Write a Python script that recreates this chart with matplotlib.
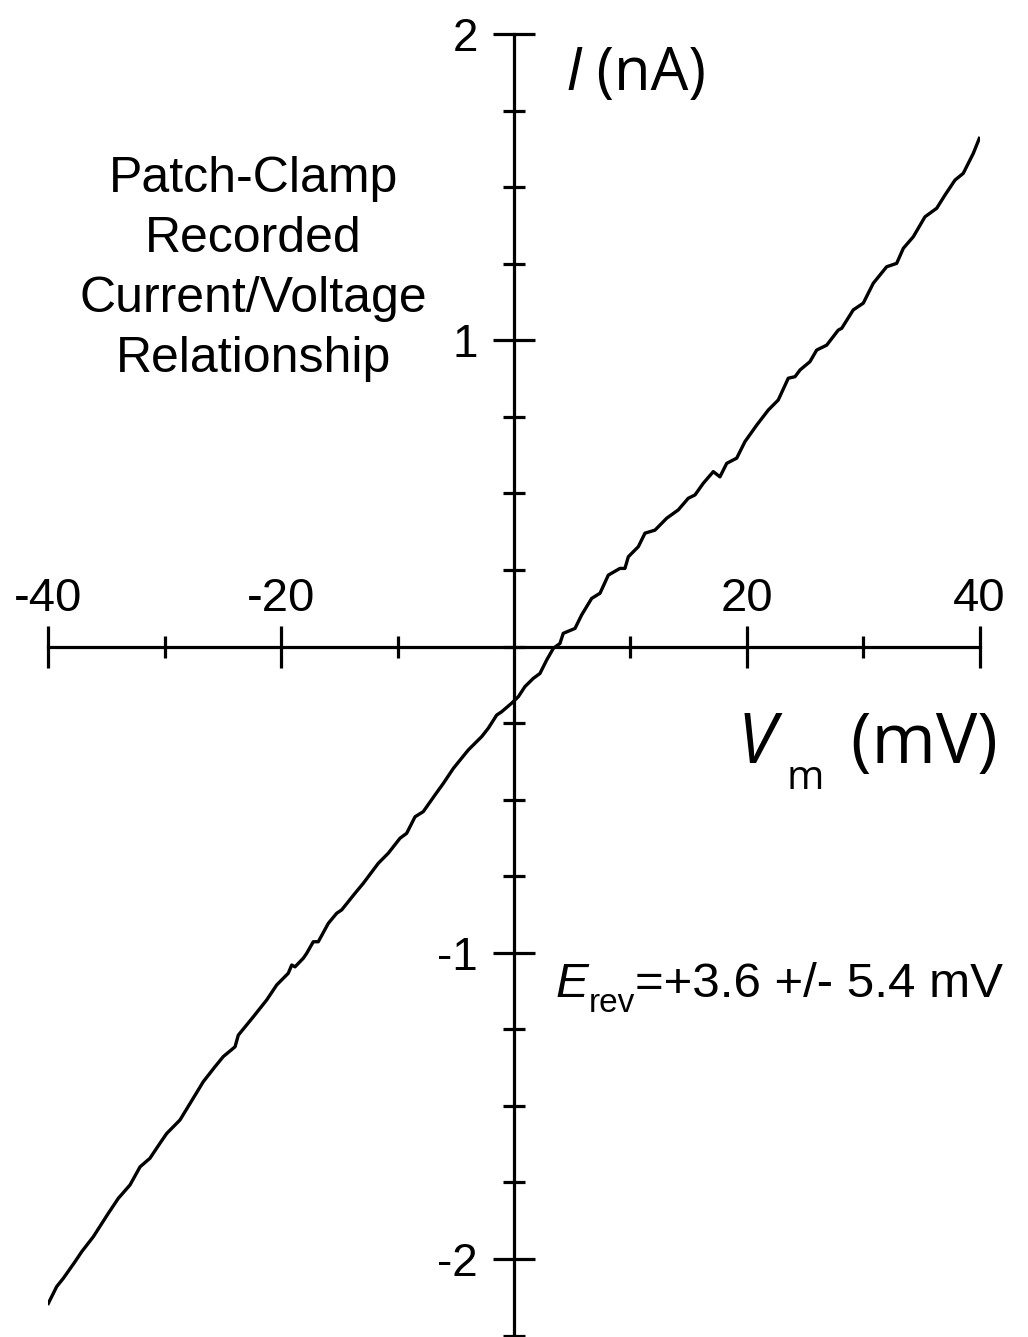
import matplotlib
matplotlib.use("Agg")
import matplotlib.pyplot as plt
from matplotlib.ticker import MultipleLocator, FixedLocator

plt.rcParams['font.family'] = ['Liberation Sans', 'DejaVu Sans']
plt.rcParams['axes.unicode_minus'] = False

# I/V trace: membrane voltage (mV) and whole-cell current (nA)
volts = [-40.0, -39.28, -38.71, -37.71, -37.13, -36.13, -34.85, -33.99, -32.98, -32.12,
         -31.27, -30.41, -29.83, -28.69, -27.12, -26.69, -25.68, -24.97, -23.96, -23.68,
         -22.39, -21.24, -20.38, -19.39, -19.09, -18.81, -18.10, -17.81, -17.24, -16.81,
         -15.95, -15.23, -14.80, -13.66, -12.94, -11.66, -10.80, -9.79, -9.22, -8.50,
         -7.79, -6.79, -6.07, -5.21, -3.93, -2.77, -2.21, -1.49, -1.06, -0.20,
         0.37, 0.94, 1.66, 2.23, 2.81, 3.38, 3.95, 4.23, 5.24, 5.81,
         6.67, 7.39, 8.10, 9.10, 9.53, 9.82, 10.68, 11.25, 12.11, 13.12,
         14.11, 14.97, 15.55, 16.26, 17.12, 17.69, 18.27, 19.13, 19.84, 20.85,
         21.84, 22.70, 23.56, 24.14, 24.57, 25.42, 26.00, 26.86, 27.85, 28.15,
         29.14, 30.00, 30.86, 32.01, 32.87, 33.44, 34.30, 35.30, 36.31, 37.02,
         37.88, 38.59, 39.45, 39.97]
currents = [-2.145, -2.090, -2.063, -2.009, -1.976, -1.927, -1.851, -1.802, -1.758, -1.699,
            -1.671, -1.622, -1.590, -1.546, -1.448, -1.421, -1.372, -1.339, -1.307, -1.269,
            -1.209, -1.154, -1.105, -1.067, -1.040, -1.046, -1.018, -1.002, -0.964, -0.964,
            -0.904, -0.871, -0.860, -0.806, -0.773, -0.708, -0.675, -0.626, -0.610, -0.556,
            -0.539, -0.485, -0.447, -0.398, -0.338, -0.294, -0.267, -0.224, -0.213, -0.185,
            -0.164, -0.131, -0.104, -0.088, -0.044, -0.006, 0.010, 0.043, 0.059, 0.103,
            0.157, 0.174, 0.233, 0.255, 0.255, 0.293, 0.326, 0.370, 0.380, 0.419,
            0.446, 0.484, 0.495, 0.533, 0.571, 0.554, 0.598, 0.615, 0.669, 0.723,
            0.772, 0.805, 0.876, 0.881, 0.903, 0.930, 0.968, 0.984, 1.033, 1.039,
            1.099, 1.121, 1.186, 1.240, 1.251, 1.300, 1.338, 1.403, 1.431, 1.474,
            1.523, 1.545, 1.610, 1.659]

x_ticks = [-40, -20, 20, 40]
y_ticks = [-2, -1, 1, 2]
e_rev = 3.6
e_rev_err = 5.4

fig = plt.figure(figsize=(10.28, 13.37), dpi=100)
ax = fig.add_axes([0.04699, 0.00105, 0.9060, 0.97353])
ax.set_xlim(-40, 40)
ax.set_ylim(-2.25, 2)

ax.plot(volts, currents, color='black', lw=2.4, solid_joinstyle='round')

# cross-shaped axes through the origin, x labels sitting above the line
ax.spines['bottom'].set_visible(False)
ax.spines['right'].set_visible(False)
ax.spines['top'].set_position(('data', 0))
ax.spines['left'].set_position(('data', 0))
for s in ('top', 'left'):
    ax.spines[s].set_linewidth(2.3)
ax.xaxis.set_ticks_position('top')
ax.yaxis.set_ticks_position('left')

ax.xaxis.set_major_locator(FixedLocator(x_ticks))
ax.xaxis.set_minor_locator(FixedLocator([-30, -10, 10, 30]))
ax.yaxis.set_major_locator(FixedLocator(y_ticks))
ax.yaxis.set_minor_locator(MultipleLocator(0.25))
ax.set_xticklabels([str(v) for v in x_ticks])
ax.set_yticklabels([str(v) for v in y_ticks])

ax.tick_params(which='major', direction='inout', length=30, width=2.3)
ax.tick_params(which='minor', direction='inout', length=16, width=2.3)
ax.tick_params(axis='x', which='major', labelsize=34, pad=3.5)
ax.tick_params(axis='y', which='major', labelsize=33, pad=11)

# axis titles
lab = dict(family='Open Sans', fontsize=43, color='black')
t = ax.text(4.4, 1.817, 'I', style='italic', **lab)
ax.annotate(' (nA)', xy=(1, 0), xycoords=t, va='bottom', **lab)

vlab = dict(family='Open Sans', fontsize=50, color='black')
t = ax.text(19.2, -0.38, 'V', style='italic', **vlab)
t = ax.annotate('m', xy=(1, 0), xycoords=t, xytext=(8, -14), textcoords='offset points',
                va='bottom', family='Open Sans', fontsize=29)
ax.annotate(' (mV)', xy=(1, 0), xycoords=t, xytext=(6, 14), textcoords='offset points',
            va='bottom', **vlab)

ax.text(-22.4, 0.897, 'Patch-Clamp\nRecorded\nCurrent/Voltage\nRelationship',
        ha='center', va='baseline', multialignment='center', fontsize=36, linespacing=1.39)

# reversal potential
t = ax.text(3.6, -1.144, 'E', style='italic', fontsize=35.5)
t = ax.annotate('rev', xy=(1, 0), xycoords=t, xytext=(0, -9), textcoords='offset points',
                va='bottom', fontsize=24)
ax.annotate(f'=+{e_rev} +/- {e_rev_err} mV', xy=(1, 0), xycoords=t, xytext=(0, 9),
            textcoords='offset points', va='bottom', fontsize=35.5)

fig.savefig('out.png', dpi=100, facecolor='white')
